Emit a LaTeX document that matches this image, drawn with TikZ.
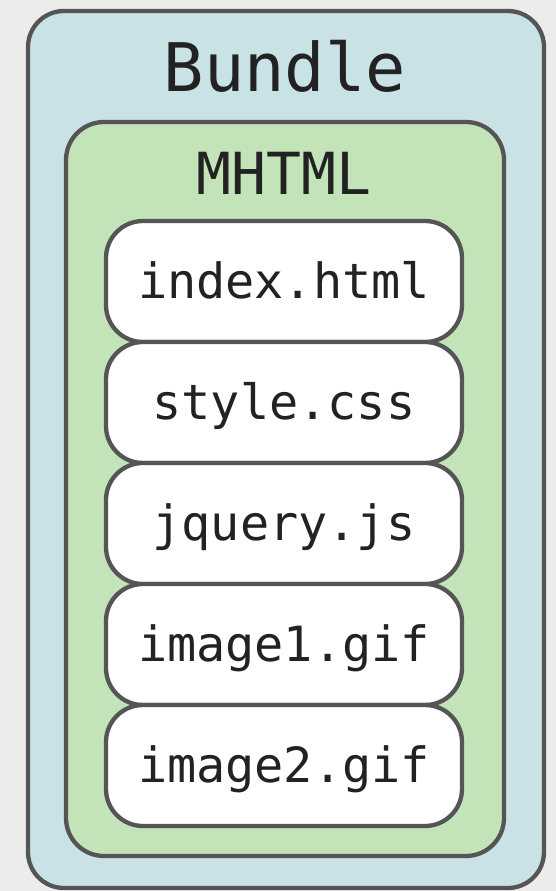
\documentclass[tikz,border=0pt]{standalone}
\usepackage{fontspec}
\setmonofont{DejaVu Sans Mono}
\definecolor{bgc}{HTML}{ECECEA}
\definecolor{bluec}{HTML}{C9E2E6}
\definecolor{greenc}{HTML}{C3E3B8}
\definecolor{edgec}{HTML}{555555}
\definecolor{txtc}{HTML}{222222}
\tikzset{
  box/.style={draw=edgec, line width=4.3pt, rectangle, inner sep=0pt},
  filebox/.style={box, fill=white, minimum width=356pt, minimum height=121pt, rounded corners=37pt},
  lbl/.style={anchor=base, text=txtc, font=\ttfamily\fontsize{48.5}{50}\selectfont, inner sep=0pt},
}
\begin{document}
\begin{tikzpicture}[x=1pt,y=-1pt]
\fill[bgc] (0,0) rectangle (556,891);
\useasboundingbox (0,0) rectangle (556,891);
\node[box, fill=bluec, minimum width=516pt, minimum height=877pt, rounded corners=36pt] (bundle) at (286,449.5) {};
\node[box, fill=greenc, minimum width=438pt, minimum height=734pt, rounded corners=38pt] (mhtml) at (285,489) {};
\node[lbl, font=\ttfamily\fontsize{67}{70}\selectfont] (bundlelbl) at (285,91) {Bundle};
\node[lbl, font=\ttfamily\fontsize{58}{60}\selectfont] (mhtmllbl) at (284,194) {MHTML};
\node[filebox] (f1) at (284,281.5) {};
\node[filebox] (f2) at (284,402.5) {};
\node[filebox] (f3) at (284,523.5) {};
\node[filebox] (f4) at (284,644.5) {};
\node[filebox] (f5) at (284,765.5) {};
\node[lbl] (l1) at (284,298) {index.html};
\node[lbl] (l2) at (284,419) {style.css};
\node[lbl] (l3) at (284,540) {jquery.js};
\node[lbl] (l4) at (284,661) {image1.gif};
\node[lbl] (l5) at (284,782) {image2.gif};
\end{tikzpicture}
\end{document}
